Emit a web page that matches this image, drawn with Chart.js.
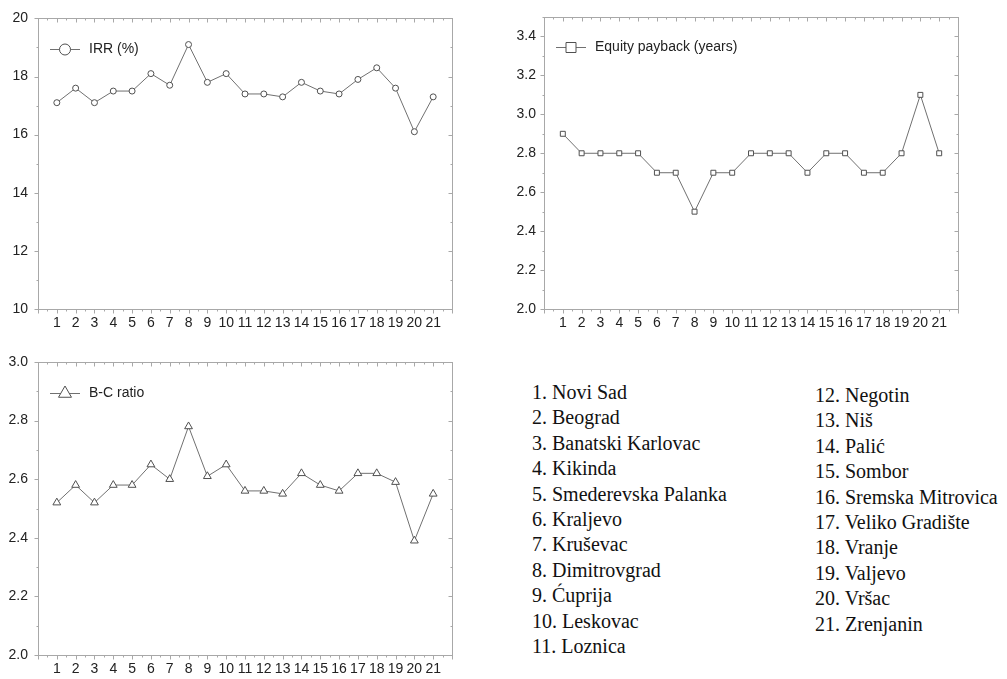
<!DOCTYPE html>
<html>
<head>
<meta charset="utf-8">
<script src="https://cdn.jsdelivr.net/npm/chart.js@4.4.0/dist/chart.umd.min.js"></script>
<style>
    body { margin: 0; background: #fff; }
    #wrap { position: relative; width: 1007px; height: 679px; overflow: hidden; }
    canvas { position: absolute; }
    .sites {
        position: absolute;
        font-family: "Liberation Serif", "Times New Roman", serif;
        font-size: 20px;
        line-height: 25.4px;
        color: #111;
        white-space: nowrap;
    }
</style>
</head>
<body>
<div id="wrap">
    <canvas id="irrChart" width="460" height="330" style="left:0;top:0"></canvas>
    <canvas id="paybackChart" width="480" height="330" style="left:500px;top:0"></canvas>
    <canvas id="bcChart" width="460" height="339" style="left:0;top:340px"></canvas>
    <div id="sitesLeft" class="sites" style="left:532px;top:380px"></div>
    <div id="sitesRight" class="sites" style="left:815px;top:383px"></div>
</div>
<script>
// site numbers on the x axis and their names
var siteIds = [1, 2, 3, 4, 5, 6, 7, 8, 9, 10, 11, 12, 13, 14, 15, 16, 17, 18, 19, 20, 21];
var siteNames = ['Novi Sad', 'Beograd', 'Banatski Karlovac', 'Kikinda', 'Smederevska Palanka',
    'Kraljevo', 'Kruševac', 'Dimitrovgrad', 'Ćuprija', 'Leskovac', 'Loznica', 'Negotin', 'Niš',
    'Palić', 'Sombor', 'Sremska Mitrovica', 'Veliko Gradište', 'Vranje', 'Valjevo', 'Vršac', 'Zrenjanin'];

var irr = [17.1, 17.6, 17.1, 17.5, 17.5, 18.1, 17.7, 19.1, 17.8, 18.1, 17.4,
    17.4, 17.3, 17.8, 17.5, 17.4, 17.9, 18.3, 17.6, 16.1, 17.3];
var payback = [2.9, 2.8, 2.8, 2.8, 2.8, 2.7, 2.7, 2.5, 2.7, 2.7, 2.8,
    2.8, 2.8, 2.7, 2.8, 2.8, 2.7, 2.7, 2.8, 3.1, 2.8];
var bcRatio = [2.52, 2.58, 2.52, 2.58, 2.58, 2.65, 2.60, 2.78, 2.61, 2.65, 2.56,
    2.56, 2.55, 2.62, 2.58, 2.56, 2.62, 2.62, 2.59, 2.39, 2.55];

// names list on the right
var leftCol = document.getElementById('sitesLeft');
var rightCol = document.getElementById('sitesRight');
siteNames.forEach(function(name, i) {
    var d = document.createElement('div');
    d.textContent = siteIds[i] + '. ' + name;
    (i < 11 ? leftCol : rightCol).appendChild(d);
});

var LINE = '#707070';
var MARK = '#505050';
var FRAME = '#a8a8a8';
var FONT = { family: '"Liberation Sans", Arial, sans-serif', size: 14 };

function drawMarker(ctx, style, x, y, r) {
    ctx.beginPath();
    if (style === 'circle') {
        ctx.arc(x, y, r, 0, Math.PI * 2);
    } else if (style === 'rect') {
        ctx.rect(x - r, y - r, 2 * r, 2 * r);
    } else {
        ctx.moveTo(x, y - r);
        ctx.lineTo(x + r * 0.866, y + r * 0.5);
        ctx.lineTo(x - r * 0.866, y + r * 0.5);
        ctx.closePath();
    }
    ctx.fillStyle = '#fff';
    ctx.fill();
    ctx.stroke();
}

// frame, inward/outward tick marks and the small in-plot legend
var frameTicks = {
    id: 'frameTicks',
    afterDraw: function(chart, args, opts) {
        var ctx = chart.ctx, a = chart.chartArea;
        var x = chart.scales.x, y = chart.scales.y;
        var L = Math.round(a.left) + 0.5, R = Math.round(a.right) + 0.5;
        var T = Math.round(a.top) + 0.5, B = Math.round(a.bottom) + 0.5;
        ctx.save();
        ctx.lineWidth = 1;
        ctx.strokeStyle = FRAME;
        ctx.strokeRect(L, T, R - L, B - T);
        ctx.beginPath();
        for (var v = x.min; v <= x.max + 1e-9; v += 0.5) {
            var px = Math.round(x.getPixelForValue(v)) + 0.5;
            var len = (v % 1 === 0) ? 4 : 2;
            ctx.moveTo(px, B); ctx.lineTo(px, B + len);
            ctx.moveTo(px, T); ctx.lineTo(px, T + len);
        }
        var n = Math.round((y.max - y.min) / opts.minor);
        for (var i = 0; i <= n; i++) {
            var py = Math.round(y.getPixelForValue(y.min + i * opts.minor)) + 0.5;
            var l2 = (i % 2 === 0) ? 4 : 2;
            ctx.moveTo(L, py); ctx.lineTo(L - l2, py);
            ctx.moveTo(R, py); ctx.lineTo(R - l2, py);
        }
        ctx.stroke();

        var lg = opts.legend;
        var ly = Math.round(a.top + lg.dy) + 0.5;
        var lx = a.left + 12;
        ctx.strokeStyle = LINE;
        ctx.beginPath();
        ctx.moveTo(lx, ly); ctx.lineTo(lx + 30, ly);
        ctx.stroke();
        ctx.strokeStyle = MARK;
        drawMarker(ctx, lg.style, lx + 15, ly, lg.r);
        ctx.fillStyle = '#222';
        ctx.font = FONT.size + 'px ' + FONT.family;
        ctx.textBaseline = 'middle';
        ctx.fillText(lg.text, lx + 39, ly);
        ctx.restore();
    }
};

function makeChart(id, values, cfg) {
    var ctx = document.getElementById(id).getContext('2d');
    return new Chart(ctx, {
        type: 'line',
        data: {
            datasets: [{
                data: values.map(function(v, i) { return { x: siteIds[i], y: v }; }),
                borderColor: LINE,
                borderWidth: 1,
                pointStyle: cfg.pointStyle,
                pointRadius: cfg.pointRadius,
                pointBackgroundColor: '#fff',
                pointBorderColor: MARK,
                pointBorderWidth: 1,
                tension: 0
            }]
        },
        options: {
            responsive: false,
            animation: false,
            events: [],
            layout: { padding: { top: cfg.top, right: cfg.right, bottom: 0, left: 0 } },
            plugins: {
                legend: { display: false },
                tooltip: { enabled: false },
                frameTicks: { minor: cfg.minor, legend: cfg.legend }
            },
            scales: {
                x: {
                    type: 'linear',
                    min: 0,
                    max: 22,
                    grid: { display: false, drawTicks: false },
                    border: { display: false },
                    afterFit: function(s) { s.height = cfg.xHeight; },
                    ticks: {
                        stepSize: 1,
                        autoSkip: false,
                        maxRotation: 0,
                        padding: 6,
                        color: '#222',
                        font: FONT,
                        callback: function(v) { return siteIds.indexOf(v) >= 0 ? String(v) : ''; }
                    }
                },
                y: {
                    min: cfg.min,
                    max: cfg.max,
                    grid: { display: false, drawTicks: false },
                    border: { display: false },
                    afterFit: function(s) { s.width = cfg.yWidth; },
                    ticks: {
                        stepSize: cfg.step,
                        includeBounds: false,
                        padding: cfg.yPad,
                        color: '#222',
                        font: FONT,
                        callback: function(v) { return cfg.decimals ? v.toFixed(cfg.decimals) : String(v); }
                    }
                }
            }
        },
        plugins: [frameTicks]
    });
}

makeChart('irrChart', irr, {
    min: 10, max: 20, step: 2, minor: 1, decimals: 0,
    top: 16, right: 8, yWidth: 38, xHeight: 21, yPad: 10,
    pointStyle: 'circle', pointRadius: 3,
    legend: { text: 'IRR (%)', style: 'circle', r: 5.5, dy: 31 }
});

makeChart('paybackChart', payback, {
    min: 2.0, max: 3.5, step: 0.2, minor: 0.1, decimals: 1,
    top: 17, right: 22, yWidth: 44, xHeight: 21, yPad: 8,
    pointStyle: 'rect', pointRadius: 3.5,
    legend: { text: 'Equity payback (years)', style: 'rect', r: 5, dy: 30 }
});

makeChart('bcChart', bcRatio, {
    min: 2.0, max: 3.0, step: 0.2, minor: 0.1, decimals: 1,
    top: 22, right: 8, yWidth: 38, xHeight: 24, yPad: 10,
    pointStyle: 'triangle', pointRadius: 4.5,
    legend: { text: 'B-C ratio', style: 'triangle', r: 7.5, dy: 31 }
});
</script>
</body>
</html>
